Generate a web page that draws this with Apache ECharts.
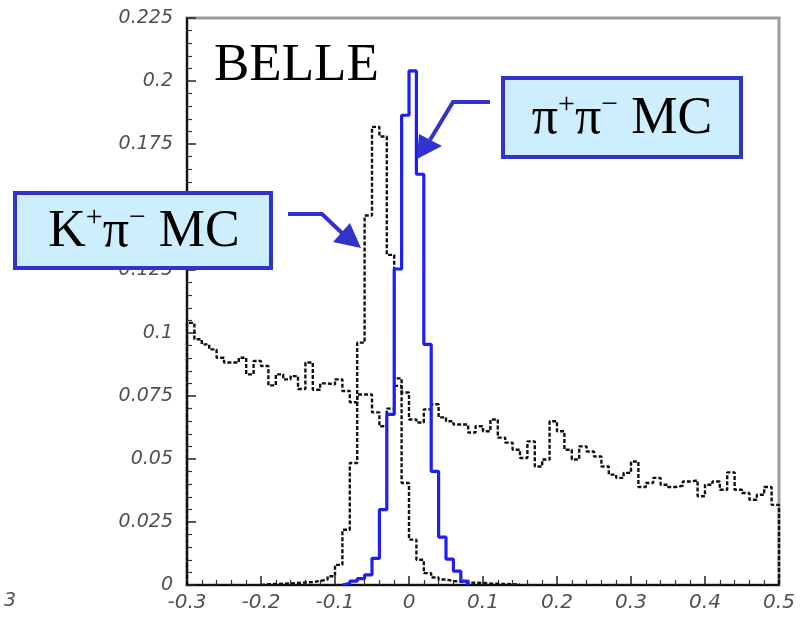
<!DOCTYPE html>
<html>
<head>
<meta charset="utf-8">
<script src="https://cdn.jsdelivr.net/npm/echarts@6/dist/echarts.min.js"></script>
<style>
  html, body { margin: 0; padding: 0; background: #fff; }
  #chart { width: 804px; height: 617px; }
</style>
</head>
<body>
<div id="chart"></div>
<script>
// Histogram bin width (ΔE in GeV)
const binWidth = 0.01;

// Continuum background (dashed), bins starting at -0.30
const bgStart = -0.30;
const bgValues = [
  0.104, 0.0975, 0.0955, 0.0935, 0.0902, 0.0883, 0.0883, 0.0902, 0.0836, 0.0889,
  0.0869, 0.0792, 0.0836, 0.0816, 0.0829, 0.0778, 0.0883, 0.0775, 0.0800, 0.0796,
  0.0816, 0.0770, 0.0725, 0.0756, 0.0756, 0.0685, 0.0630, 0.0700, 0.0790, 0.0764,
  0.0657, 0.0645, 0.0697, 0.0717, 0.0665, 0.0650, 0.0637, 0.0637, 0.0605, 0.0630,
  0.0610, 0.0657, 0.0585, 0.0565, 0.0537, 0.0504, 0.0570, 0.0470, 0.0498, 0.0650,
  0.0610, 0.0537, 0.0498, 0.0550, 0.0530, 0.0510, 0.0470, 0.0438, 0.0425, 0.0445,
  0.0490, 0.0389, 0.0405, 0.0425, 0.0398, 0.0389, 0.0394, 0.0411, 0.0415, 0.0352,
  0.0398, 0.0411, 0.0378, 0.0447, 0.0378, 0.0365, 0.0338, 0.0358, 0.0389, 0.0318
];

// K+π− MC (dashed), bins starting at -0.20
const kpiStart = -0.20;
const kpiValues = [
  0.0003, 0.0004, 0.0005, 0.0006, 0.0008, 0.0010, 0.0012, 0.0016, 0.0022, 0.0035,
  0.0080, 0.0219, 0.0484, 0.0962, 0.1466, 0.1818, 0.1780, 0.1310, 0.0820, 0.0405,
  0.0180, 0.0100, 0.0047, 0.0030, 0.0022, 0.0016, 0.0013, 0.0010, 0.0009, 0.0008,
  0.0006, 0.0005, 0.0004, 0.0003, 0.0002
];

// π+π− MC (solid blue), bins starting at -0.09
const pipiStart = -0.09;
const pipiValues = [
  0.0007, 0.0015, 0.0025, 0.0040, 0.0106, 0.0299, 0.0677, 0.1254, 0.1864, 0.2040,
  0.1630, 0.0955, 0.0451, 0.0190, 0.0103, 0.0055, 0.0015
];

// Axis tick labels
const xTickLabels = ['-0.3', '-0.2', '-0.1', '0', '0.1', '0.2', '0.3', '0.4', '0.5'];
const yTickLabels = ['0', '0.025', '0.05', '0.075', '0.1', '0.125', '0.15', '0.175', '0.2', '0.225'];

// Turn bin contents into a stepped outline [x, y] sequence
function outline(start, values) {
  const pts = [[start, 0]];
  values.forEach((v, i) => {
    const lo = +(start + i * binWidth).toFixed(4);
    const hi = +(start + (i + 1) * binWidth).toFixed(4);
    pts.push([lo, v], [hi, v]);
  });
  pts.push([+(start + values.length * binWidth).toFixed(4), 0]);
  return pts;
}

const labelFont = {
  fontFamily: 'DejaVu Sans',
  fontStyle: 'italic',
  color: '#505050'
};

const chart = echarts.init(document.getElementById('chart'), null, { renderer: 'canvas' });

const dashed = { color: '#111', width: 2.4, type: [4, 2] };

chart.setOption({
  animation: false,
  backgroundColor: '#fff',
  grid: {
    left: 187, right: 25, top: 18, bottom: 32,
    show: true, borderColor: '#9a9a9a', borderWidth: 3, backgroundColor: 'transparent'
  },
  xAxis: {
    type: 'value', min: -0.3, max: 0.5, interval: 0.1,
    axisLine: { show: true, onZero: false, lineStyle: { color: '#111', width: 2 } },
    axisTick: { show: true, inside: true, length: 9, lineStyle: { color: '#222', width: 1.5 } },
    minorTick: { show: true, splitNumber: 5, length: 5, lineStyle: { color: '#333', width: 1.2 } },
    splitLine: { show: false },
    axisLabel: Object.assign({
      fontSize: 20, margin: 8,
      formatter: (v, i) => xTickLabels[i]
    }, labelFont)
  },
  yAxis: {
    type: 'value', min: 0, max: 0.225, interval: 0.025,
    axisLine: { show: true, onZero: false, lineStyle: { color: '#111', width: 2 } },
    axisTick: { show: true, inside: true, length: 9, lineStyle: { color: '#222', width: 1.5 } },
    minorTick: { show: true, splitNumber: 5, length: 5, lineStyle: { color: '#333', width: 1.2 } },
    splitLine: { show: false },
    axisLabel: Object.assign({
      fontSize: 19, margin: 14,
      formatter: (v, i) => yTickLabels[i]
    }, labelFont)
  },
  series: [
    {
      name: 'continuum', type: 'line', data: outline(bgStart, bgValues),
      showSymbol: false, symbol: 'none', lineStyle: dashed, clip: true, z: 2
    },
    {
      name: 'K+π− MC', type: 'line', data: outline(kpiStart, kpiValues),
      showSymbol: false, symbol: 'none', lineStyle: dashed, clip: true, z: 3
    },
    {
      name: 'π+π− MC', type: 'line', data: outline(pipiStart, pipiValues),
      showSymbol: false, symbol: 'none',
      lineStyle: { color: '#1f1ff5', width: 3.2 }, clip: true, z: 4
    }
  ],
  graphic: [
    {
      type: 'text', x: 214, y: 40, z: 10,
      style: { text: 'BELLE', font: '53px "Liberation Serif"', fill: '#000' }
    },
    // π+π− label box
    {
      type: 'rect', z: 10,
      shape: { x: 503, y: 78, width: 238, height: 79 },
      style: { fill: '#cdeefd', stroke: '#3333cc', lineWidth: 4 }
    },
    {
      type: 'text', x: 622, y: 119, z: 11,
      style: {
        text: '{m|π}{s|+}{m|π}{s|−}{m| MC}',
        align: 'center', verticalAlign: 'middle',
        rich: {
          m: { fontFamily: 'Liberation Serif', fontSize: 52, lineHeight: 58, fill: '#000' },
          s: { fontFamily: 'Liberation Serif', fontSize: 30, lineHeight: 30, verticalAlign: 'top', fill: '#000' }
        }
      }
    },
    // K+π− label box
    {
      type: 'rect', z: 10,
      shape: { x: 15, y: 193, width: 256, height: 75 },
      style: { fill: '#cdeefd', stroke: '#3333cc', lineWidth: 4 }
    },
    {
      type: 'text', x: 144, y: 232, z: 11,
      style: {
        text: '{m|K}{s|+}{m|π}{s|−}{m| MC}',
        align: 'center', verticalAlign: 'middle',
        rich: {
          m: { fontFamily: 'Liberation Serif', fontSize: 52, lineHeight: 58, fill: '#000' },
          s: { fontFamily: 'Liberation Serif', fontSize: 30, lineHeight: 30, verticalAlign: 'top', fill: '#000' }
        }
      }
    },
    // arrows
    {
      type: 'polyline', z: 10,
      shape: { points: [[490, 102], [453, 102], [430, 140]] },
      style: { stroke: '#3333cc', lineWidth: 4, fill: null }
    },
    {
      type: 'polygon', z: 10,
      shape: { points: [[417, 159], [442, 146], [419, 134]] },
      style: { fill: '#3333cc' }
    },
    {
      type: 'polyline', z: 10,
      shape: { points: [[288, 214], [322, 214], [343, 234]] },
      style: { stroke: '#3333cc', lineWidth: 4, fill: null }
    },
    {
      type: 'polygon', z: 10,
      shape: { points: [[361, 248], [350, 223], [333, 242]] },
      style: { fill: '#3333cc' }
    },
    // clipped label remnant at the lower left edge
    {
      type: 'text', x: 4, y: 592, z: 10,
      style: { text: '3', font: 'italic 19px "DejaVu Sans"', fill: '#505050' }
    }
  ]
});
</script>
</body>
</html>
